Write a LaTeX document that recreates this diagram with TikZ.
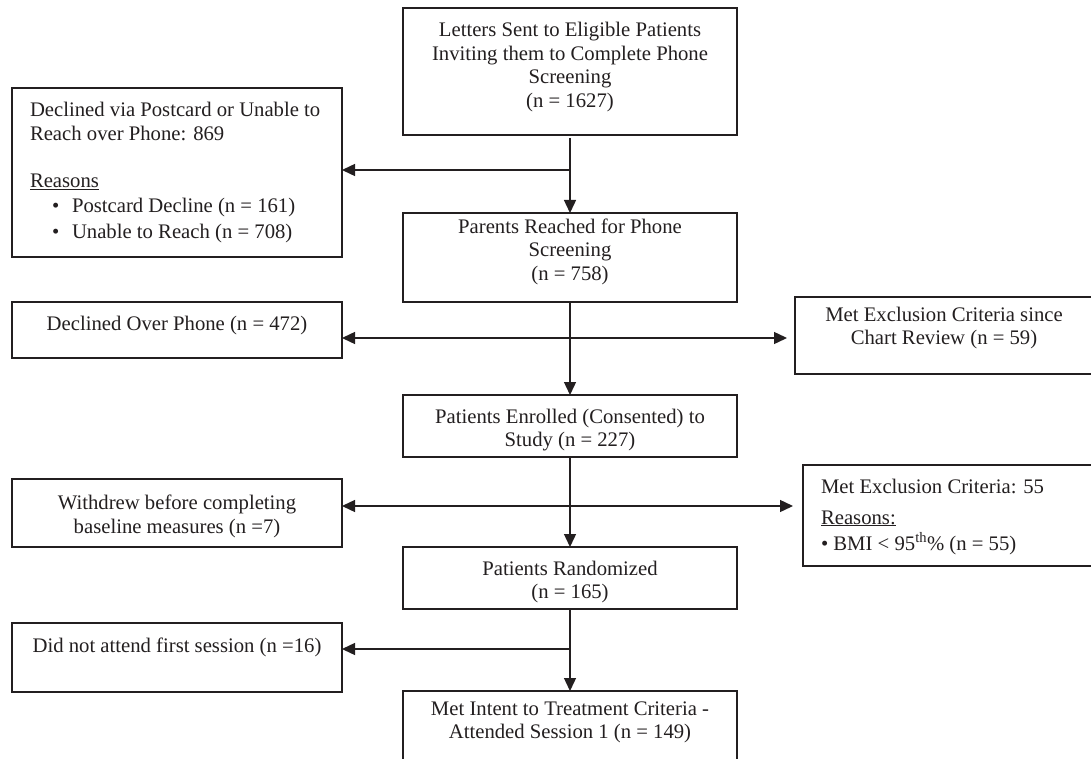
\documentclass[tikz,border=0pt]{standalone}
\usepackage{fontspec}
\setmainfont{Liberation Serif}
\usetikzlibrary{arrows.meta}
\definecolor{ink}{RGB}{35,31,32}
\begin{document}
\begin{tikzpicture}[x=1pt,y=-1pt,
  box/.style={draw=ink, line width=1.4pt, inner sep=0pt, outer sep=0pt},
  txt/.style={inner sep=0pt, outer sep=0pt, font=\fontsize{20.7}{23.5}\selectfont, text=ink, align=center, anchor=base},
  ltxt/.style={txt, align=left, anchor=base west},
  arr/.style={draw=ink, line width=1.4pt, -{Triangle[length=13pt,width=12pt]}}
]
\clip (0,0) rectangle (1091,759);
\fill[white] (0,0) rectangle (1091,759);

% boxes
\node[box, minimum width=334pt, minimum height=127pt] (top) at (570,71.5) {};
\node[box, minimum width=330pt, minimum height=169pt] (postcard) at (177,172.5) {};
\node[box, minimum width=334pt, minimum height=89pt] (parents) at (570,257.5) {};
\node[box, minimum width=330pt, minimum height=56pt] (phone) at (177,330) {};
\node[box, minimum width=298pt, minimum height=77pt] (chart) at (944,335.5) {};
\node[box, minimum width=334pt, minimum height=62pt] (enrolled) at (570,426) {};
\node[box, minimum width=330pt, minimum height=68pt] (withdrew) at (177,513) {};
\node[box, minimum width=297pt, minimum height=101pt] (excl) at (951.5,515.5) {};
\node[box, minimum width=334pt, minimum height=62pt] (random) at (570,578) {};
\node[box, minimum width=330pt, minimum height=69pt] (noattend) at (177,657.5) {};
\node[box, minimum width=334pt, minimum height=109pt] (final) at (570,745.5) {};

% texts (base anchor of a multi-line node = baseline of its last line)
\node[txt] (ttop) at (570,107.5) {Letters Sent to Eligible Patients\\Inviting them to Complete Phone\\Screening\\(n = 1627)};
\node[ltxt] (tpost1) at (30,140.5) {Declined via Postcard or Unable to\\Reach over Phone: 869};
\node[ltxt] (tpost2) at (30,188) {\underline{Reasons}};
\node[ltxt] (tpostb1) at (52,213) {\textbullet};
\node[ltxt] (tpost3) at (72,213) {Postcard Decline (n = 161)};
\node[ltxt] (tpostb2) at (52,238) {\textbullet};
\node[ltxt] (tpost4) at (72,238) {Unable to Reach (n = 708)};
\node[txt] (tparents) at (570,280) {Parents Reached for Phone\\Screening\\(n = 758)};
\node[txt] (tphone) at (177,330) {Declined Over Phone (n = 472)};
\node[txt] (tchart) at (944,344.5) {Met Exclusion Criteria since\\Chart Review (n = 59)};
\node[txt] (tenrolled) at (570,446.5) {Patients Enrolled (Consented) to\\Study (n = 227)};
\node[txt] (twithdrew) at (177,533) {Withdrew before completing\\baseline measures (n =7)};
\node[ltxt] (texcl1) at (821,493) {Met Exclusion Criteria: 55};
\node[ltxt] (texcl2) at (821,524) {\underline{Reasons:}};
\node[ltxt] (texcl3) at (821,550) {\textbullet\ BMI < 95\textsuperscript{th}\% (n = 55)};
\node[txt] (trandom) at (570,598.5) {Patients Randomized\\(n = 165)};
\node[txt] (tnoattend) at (177,652) {Did not attend first session (n =16)};
\node[txt] (tfinal) at (570,738.5) {Met Intent to Treatment Criteria -\\Attended Session 1 (n = 149)};

% junctions
\coordinate (j1) at (570,170);
\coordinate (j2) at (570,338);
\coordinate (j3) at (570,506);
\coordinate (j4) at (570,649);

% main flow
\draw[arr, shorten <=3pt] (top.south) -- (parents.north);
\draw[arr] (parents.south) -- (enrolled.north);
\draw[arr] (enrolled.south) -- (random.north);
\draw[arr] (random.south) -- (final.north);

% side branches
\draw[arr] (j1) -- (postcard.east |- j1);
\draw[arr] (j2) -- (phone.east |- j2);
\draw[arr, shorten >=8pt] (j2) -- (chart.west |- j2);
\draw[arr] (j3) -- (withdrew.east |- j3);
\draw[arr, shorten >=10pt] (j3) -- (excl.west |- j3);
\draw[arr] (j4) -- (noattend.east |- j4);
\end{tikzpicture}
\end{document}
